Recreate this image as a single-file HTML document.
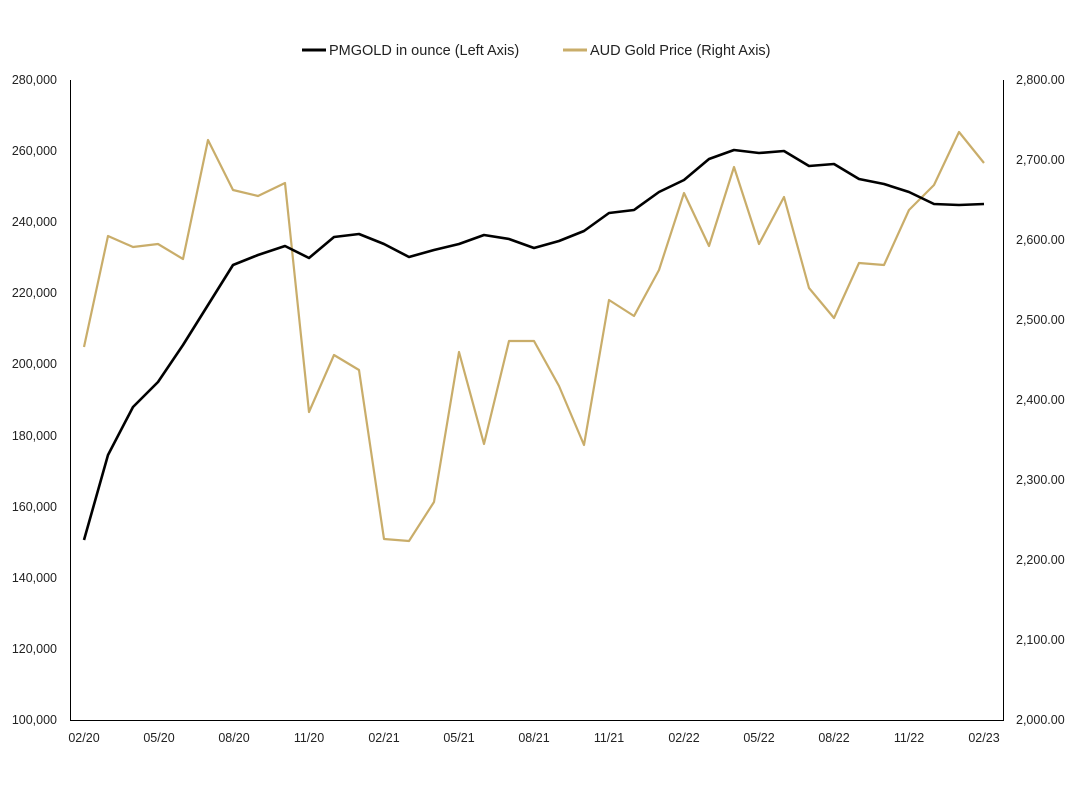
<!DOCTYPE html>
<html><head><meta charset="utf-8"><style>
html,body{margin:0;padding:0;background:#fff;}
svg{display:block;font-family:"Liberation Sans",Arial,sans-serif;}
</style></head><body>
<svg width="1080" height="810" viewBox="0 0 1080 810">
<rect width="1080" height="810" fill="#fff"/>
<line x1="302" y1="50" x2="326" y2="50" stroke="#000" stroke-width="3"/>
<text x="329" y="55" font-size="14.5" fill="#222">PMGOLD in ounce (Left Axis)</text>
<line x1="563" y1="50" x2="587" y2="50" stroke="#c9ad6a" stroke-width="3"/>
<text x="590" y="55" font-size="14.5" fill="#222">AUD Gold Price (Right Axis)</text>
<g stroke="#000" stroke-width="1">
<line x1="70.5" y1="80" x2="70.5" y2="720"/>
<line x1="1003.5" y1="80" x2="1003.5" y2="720"/>
<line x1="70" y1="720.5" x2="1004" y2="720.5"/>
</g>
<g font-size="12.5" fill="#222" text-anchor="end">
<text x="57" y="84">280,000</text><text x="57" y="155">260,000</text><text x="57" y="226">240,000</text><text x="57" y="297">220,000</text><text x="57" y="368">200,000</text><text x="57" y="440">180,000</text><text x="57" y="511">160,000</text><text x="57" y="582">140,000</text><text x="57" y="653">120,000</text><text x="57" y="724">100,000</text>
</g>
<g font-size="12.5" fill="#222" text-anchor="start">
<text x="1016" y="84">2,800.00</text><text x="1016" y="164">2,700.00</text><text x="1016" y="244">2,600.00</text><text x="1016" y="324">2,500.00</text><text x="1016" y="404">2,400.00</text><text x="1016" y="484">2,300.00</text><text x="1016" y="564">2,200.00</text><text x="1016" y="644">2,100.00</text><text x="1016" y="724">2,000.00</text>
</g>
<g font-size="12.5" fill="#222" text-anchor="middle">
<text x="84" y="742">02/20</text><text x="159" y="742">05/20</text><text x="234" y="742">08/20</text><text x="309" y="742">11/20</text><text x="384" y="742">02/21</text><text x="459" y="742">05/21</text><text x="534" y="742">08/21</text><text x="609" y="742">11/21</text><text x="684" y="742">02/22</text><text x="759" y="742">05/22</text><text x="834" y="742">08/22</text><text x="909" y="742">11/22</text><text x="984" y="742">02/23</text>
</g>
<polyline fill="none" stroke="#c9ad6a" stroke-width="2.2" stroke-linejoin="round" points="84,347 108,236 133,247 158,244 183,259 208,140 233,190 258,196 285,183 309,412 334,355 359,370 384,539 409,541 434,502 459,352 484,444 509,341 534,341 559,386 584,445 609,300 634,316 659,270 684,193 709,246 734,167 759,244 784,197 809,288 834,318 859,263 884,265 909,210 934,185 959,132 984,163"/>
<polyline fill="none" stroke="#000" stroke-width="2.6" stroke-linejoin="round" points="84,540 108,455 133,407 158,382 183,345 208,305 233,265 258,255 285,246 309,258 334,237 359,234 384,244 409,257 434,250 459,244 484,235 509,239 534,248 559,241 584,231 609,213 634,210 659,192 684,180 709,159 734,150 759,153 784,151 809,166 834,164 859,179 884,184 909,192 934,204 959,205 984,204"/>
</svg>
</body></html>
